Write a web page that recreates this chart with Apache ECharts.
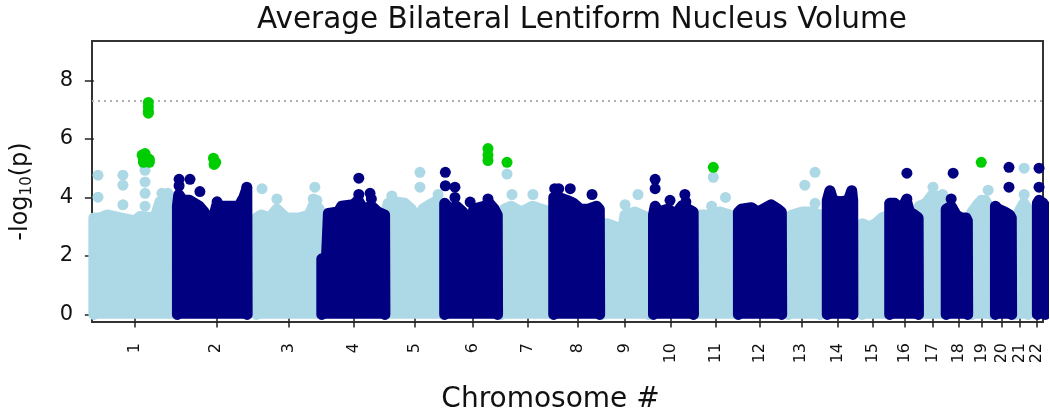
<!DOCTYPE html>
<html><head><meta charset="utf-8">
<script src="https://cdn.jsdelivr.net/npm/echarts@6/dist/echarts.min.js"></script>
<style>html,body{margin:0;padding:0;background:#fff}#c{width:1050px;height:410px}</style>
</head><body><div id="c"></div>
<script>
// ---- data ----
const chromosomes = ['1','2','3','4','5','6','7','8','9','10','11','12','13','14','15','16','17','18','19','20','21','22'];
const chromLengthsMb = [249,243,198,191,181,171,159,146,141,136,135,134,115,107,103,90,81,78,59,63,48,51];
const yTicks = [0, 2, 4, 6, 8];
const significanceLine = 7.3;

// upper edge of the dense SNP mass per chromosome: [position within chromosome (Mb), -log10(p)]
const massTop = [
  [[0,0],[0,3.3],[20,3.3],[40,3.4],[80,3.3],[125,3.2],[140,3.35],[185,3.3],[200,3.85],[240,3.9],[249,3.7],[249.5,0]],
  [[4,0],[4,3.7],[8,4.1],[20,3.9],[40,3.9],[70,3.7],[85,3.5],[95,3.15],[110,3.15],[122,3.7],[150,3.7],[190,3.7],[205,4.0],[214,4.3],[215,0]],
  [[0,0],[0,3.3],[15,3.4],[40,3.3],[62,3.6],[90,3.3],[130,3.3],[160,3.4],[175,3.8],[190,3.6],[197,3.3],[198,0]],
  [[0,0],[0,1.9],[14,1.9],[20,3.45],[50,3.5],[60,3.7],[95,3.75],[110,3.9],[125,3.6],[150,3.7],[170,3.5],[190,3.4],[191,0]],
  [[0,0],[0,3.3],[10,3.8],[25,3.85],[60,3.8],[80,3.6],[95,3.2],[103,3.2],[115,3.6],[135,3.75],[160,3.9],[176,3.5],[177,0]],
  [[0,0],[0,3.8],[5,3.8],[15,3.6],[35,3.7],[55,3.5],[60,2.95],[80,2.95],[88,3.6],[120,3.7],[135,3.8],[150,3.6],[159,3.4],[160,0]],
  [[0,0],[0,3.4],[10,3.6],[30,3.7],[60,3.5],[95,3.7],[120,3.6],[150,3.5],[158,3.3],[159,0]],
  [[0,0],[0,4.0],[15,4.0],[40,3.9],[60,3.8],[80,3.6],[105,3.6],[130,3.7],[138,3.6],[139,0]],
  [[0,0],[0,3.1],[15,3.1],[40,3.0],[50,2.5],[58,2.6],[70,3.4],[100,3.5],[120,3.4],[140,3.3],[141,0]],
  [[15,0],[15,3.4],[20,3.7],[30,3.5],[60,3.6],[80,3.4],[100,3.7],[120,3.6],[135,3.5],[136,0]],
  [[0,0],[0,3.3],[20,3.4],[50,3.4],[80,3.5],[110,3.4],[130,3.3],[134,0]],
  [[1,0],[1,3.5],[10,3.6],[40,3.65],[60,3.5],[100,3.75],[120,3.6],[131,3.5],[132,0]],
  [[18,0],[18,3.3],[30,3.4],[60,3.5],[90,3.5],[113,3.4],[114,0]],
  [[21,0],[21,3.9],[29,4.23],[38,3.9],[60,3.85],[85,3.9],[95,4.23],[98,3.9],[98.5,0]],
  [[20,0],[20,3.1],[40,3.0],[60,3.1],[80,3.3],[102,3.4],[103,0]],
  [[0,0],[0,3.8],[15,3.8],[35,3.6],[50,3.9],[60,3.5],[75,3.4],[86,3.3],[87,0]],
  [[0,0],[0,3.7],[20,3.8],[40,4.1],[55,4.0],[70,3.9],[80,3.6],[81,0]],
  [[0,0],[0,3.6],[15,3.7],[30,3.4],[45,3.3],[60,3.3],[64,3.2],[65,0]],
  [[0,0],[0,3.5],[20,3.8],[40,3.9],[55,3.6],[59,0]],
  [[12,0],[12,3.7],[20,3.6],[40,3.5],[55,3.4],[60,3.3],[61,0]],
  [[10,0],[10,3.3],[20,3.5],[35,3.8],[47,3.6],[48,0]],
  [[28,0],[28,3.8],[33,3.9],[45,3.8],[51,3.7],[52,0]]
];

// individual SNPs standing above the mass: [chromosome, position (Mb), -log10(p)]
const outlierPoints = [
  [1,12.6,4.76],[1,12.6,4.01],[1,88,4.76],[1,88,4.42],[1,88,3.75],[1,155,4.93],[1,155,4.53],[1,155,4.14],[1,155,3.7],[1,206,4.14],[1,224,4.14],
  [2,9,4.62],[2,42,4.62],[2,9,4.4],[2,72,4.2],[2,124,3.85],[2,214,4.35],
  [3,17,4.3],[3,62,3.95],[3,177,4.35],[3,172,3.95],[3,183,3.9],
  [4,112,4.66],[4,112,4.1],[4,146,4.14],[4,150,3.95],
  [5,106,4.86],[5,106,4.35],[5,21,4.05],[5,161,4.1],
  [6,2,4.86],[6,2,4.4],[6,31,4.35],[6,31,4.0],[6,77,3.84],[6,131,3.95],
  [7,17.6,4.8],[7,32.8,4.1],[7,96,4.1],
  [8,3,4.3],[8,15,4.3],[8,50,4.3],[8,116,4.1],
  [9,70,3.75],[9,109,4.1],
  [10,20,4.62],[10,20,4.3],[10,65,3.9],[10,110,4.1],[10,113,3.85],
  [11,60,4.69],[11,97,4.0],[11,55,3.7],
  [13,68,4.42],[13,99,4.86],[13,99,3.8],
  [16,52,4.83],[16,52,3.95],
  [17,41,4.35],[17,70,4.1],
  [18,21,4.83],[18,15,3.95],
  [19,49,4.25],[19,28,3.9],
  [20,53,5.03],[20,53,4.35],
  [21,36,5.0],[21,36,4.1],
  [22,33,5.0],[22,33,4.35]
];

// highlighted (green) SNPs: [chromosome, position (Mb), -log10(p)]
const sigPoints = [
  [1,165,7.25],[1,165,7.1],[1,165,6.95],[1,165,6.88],
  [1,146,5.45],[1,150,5.3],[1,155,5.5],[1,162,5.35],[1,168,5.3],[1,150,5.2],[1,168,5.2],
  [2,113,5.34],[2,120,5.2],[2,115,5.13],
  [6,131,5.67],[6,131,5.45],[6,131,5.26],
  [7,17.6,5.2],
  [11,60,5.03],
  [19,28,5.2]
];

// ---- build ----
const LIGHT = '#add8e6', DARK = '#000080', GREEN = '#00cd00';
const FONT = 'DejaVu Sans';
const starts = [];
let acc = 0;
chromLengthsMb.forEach(l => { starts.push(acc); acc += l; });
const centers = chromLengthsMb.map((l, i) => starts[i] + l / 2);

const series = [];
massTop.forEach((env, i) => {
  const color = i % 2 === 0 ? LIGHT : DARK;
  series.push({
    type: 'line', silent: true, showSymbol: false, z: i % 2 === 0 ? 2 : 3,
    data: env.map(p => [starts[i] + p[0], p[1]]),
    lineStyle: { color: color, width: 11, cap: 'round', join: 'round' },
    areaStyle: { color: color, opacity: 1, origin: -0.15 }
  });
});
const toXY = p => [starts[p[0] - 1] + p[1], p[2]];
series.push({
  type: 'scatter', silent: true, symbolSize: 11, z: 2,
  itemStyle: { color: LIGHT, opacity: 1 },
  data: outlierPoints.filter(p => p[0] % 2 === 1).map(toXY)
});
series.push({
  type: 'scatter', silent: true, symbolSize: 11, z: 3,
  itemStyle: { color: DARK, opacity: 1 },
  data: outlierPoints.filter(p => p[0] % 2 === 0).map(toXY)
});
series.push({
  type: 'scatter', silent: true, symbolSize: 11, z: 5,
  itemStyle: { color: GREEN, opacity: 1 },
  data: sigPoints.map(toXY),
  markLine: {
    silent: true, symbol: ['none', 'none'], label: { show: false },
    lineStyle: { color: '#b0b0b0', type: [2, 4], width: 2 },
    data: [{ yAxis: significanceLine }]
  }
});

const chart = echarts.init(document.getElementById('c'), null, { renderer: 'canvas' });
chart.setOption({
  animation: false,
  backgroundColor: '#fff',
  title: {
    text: 'Average Bilateral Lentiform Nucleus Volume',
    left: 577, top: 0, textAlign: 'center',
    textStyle: { fontFamily: FONT, fontSize: 29.5, fontWeight: 'normal', color: '#111' }
  },
  grid: { left: 92, right: 7, top: 41, bottom: 88, containLabel: false, outerBoundsMode: 'none',
          show: true, borderColor: '#333', borderWidth: 2, backgroundColor: '#fff' },
  xAxis: {
    type: 'value', min: -5.6, max: 2873,
    splitLine: { show: false },
    axisLine: { show: false },
    axisTick: { show: true, length: 13, customValues: centers, lineStyle: { color: '#222', width: 1.5 } },
    axisLabel: {
      customValues: centers, rotate: 90, margin: 21,
      fontFamily: FONT, fontSize: 16, color: '#111',
      formatter: v => { const i = centers.findIndex(c => Math.abs(c - v) < 0.01); return i >= 0 ? chromosomes[i] : ''; }
    },
    name: 'Chromosome #', nameLocation: 'middle', nameGap: 64,
    nameTextStyle: { fontFamily: FONT, fontSize: 28, color: '#111', padding: [0, 34, 0, 0] }
  },
  yAxis: {
    type: 'value', min: -0.26, max: 9.35,
    splitLine: { show: false },
    axisLine: { show: false },
    axisTick: { show: true, length: 9, customValues: yTicks, lineStyle: { color: '#222', width: 1.5 } },
    axisLabel: { customValues: yTicks, margin: 19, fontFamily: FONT, fontSize: 21, color: '#111' },
    name: '-log{s|10}(p)', nameLocation: 'middle', nameGap: 57, nameRotate: 90,
    nameTextStyle: {
      fontFamily: FONT, fontSize: 24, color: '#111', padding: [0, 20, 0, 0],
      rich: { s: { fontFamily: FONT, fontSize: 15, color: '#111', verticalAlign: 'bottom', padding: [14, 0, 0, 0] } }
    }
  },
  series: series
});
</script></body></html>
